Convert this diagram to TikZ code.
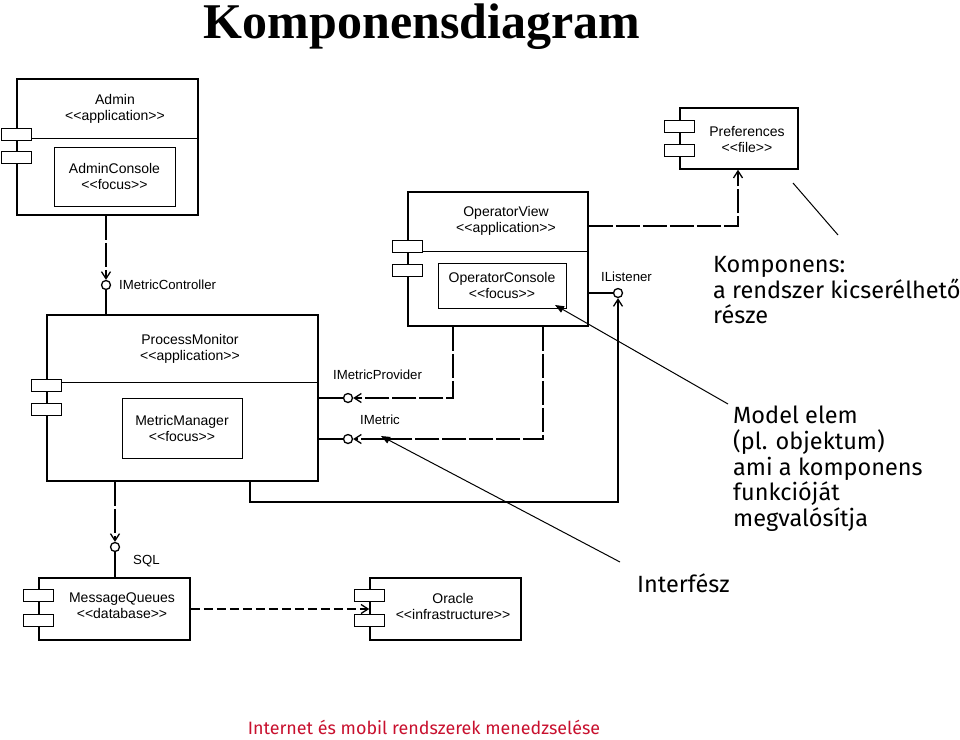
\documentclass[tikz,border=0pt]{standalone}
\usepackage{fontspec}
\setmainfont{Liberation Sans}
\newfontfamily\notefont{Fira Sans}
\newfontfamily\titlefont{Liberation Serif}
\usetikzlibrary{arrows.meta}
\definecolor{footred}{RGB}{200,16,46}
\newcommand{\stereo}[1]{<{}<#1>{}>}

\tikzset{
  comp/.style={draw, line width=1.5pt, inner sep=0pt},
  part/.style={draw, line width=1pt, inner sep=0pt, font=\fontsize{14}{16}\selectfont, align=center},
  port/.style={draw, line width=1.2pt, fill=white, minimum width=30pt, minimum height=12pt, inner sep=0pt},
  lolli/.style={circle, draw, line width=1.3pt, fill=white, minimum size=9pt, inner sep=0pt},
  boxtext/.style={font=\fontsize{14}{16}\selectfont, align=center, inner sep=0pt},
  ifctext/.style={font=\fontsize{13.2}{16}\selectfont, anchor=west, inner sep=0pt},
  dep/.style={line width=1.3pt, -{Straight Barb[length=7pt,width=9pt]}},
  deplong/.style={dep, dash pattern=on 24pt off 3pt},
  note/.style={font=\notefont\fontsize{23.5}{25.7}\selectfont, align=left, anchor=north west, inner sep=0pt},
  pointer/.style={line width=1pt, -{Triangle[length=9pt,width=7pt]}},
}

\begin{document}
\begin{tikzpicture}[x=1pt,y=-1pt]
\useasboundingbox (0,0) rectangle (960,739);

% title and footer
\node[font=\titlefont\bfseries\fontsize{50}{50}\selectfont, anchor=base] (title) at (422,38) {Komponensdiagram};
\node[font=\notefont\fontsize{17.9}{20}\selectfont, text=footred, anchor=base] (foot) at (424,734) {Internet és mobil rendszerek menedzselése};

% components
\node[comp, minimum width=181pt, minimum height=136pt] (admin) at (107.5,147) {};
\node[comp, minimum width=118pt, minimum height=61pt] (prefs) at (739,138.5) {};
\node[comp, minimum width=180pt, minimum height=134pt] (opview) at (498,259) {};
\node[comp, minimum width=271pt, minimum height=166pt] (procmon) at (182.5,398) {};
\node[comp, minimum width=151pt, minimum height=62pt] (msgq) at (114.5,609) {};
\node[comp, minimum width=151pt, minimum height=62pt] (oracle) at (445.5,609) {};

% compartments
\draw[line width=1pt] ([yshift=-60pt]admin.north west) -- ([yshift=-60pt]admin.north east);
\draw[line width=1pt] ([yshift=-60pt]opview.north west) -- ([yshift=-60pt]opview.north east);
\draw[line width=1pt] ([yshift=-68pt]procmon.north west) -- ([yshift=-68pt]procmon.north east);

% parts
\node[part, minimum width=121pt, minimum height=59pt] (adminconsole) at (114.5,176.5) {AdminConsole\\\stereo{focus}};
\node[part, minimum width=128pt, minimum height=45pt] (opconsole) at (502,285.5) {OperatorConsole\\\stereo{focus}};
\node[part, minimum width=120pt, minimum height=60pt] (metricmgr) at (182,428) {MetricManager\\\stereo{focus}};

% names
\node[boxtext] (admin-t) at (115,109) {Admin\\\stereo{application}};
\node[boxtext] (prefs-t) at (747,139) {Preferences\\\stereo{file}};
\node[boxtext] (opview-t) at (506,221) {OperatorView\\\stereo{application}};
\node[boxtext] (procmon-t) at (190,349) {ProcessMonitor\\\stereo{application}};
\node[boxtext] (msgq-t) at (122,606) {MessageQueues\\\stereo{database}};
\node[boxtext] (oracle-t) at (453,606) {Oracle\\\stereo{infrastructure}};

% ports
\foreach \c/\a/\b in {admin/56/79.5, prefs/19.5/43, opview/55.5/79.5, procmon/71.5/95.5, msgq/18.5/43, oracle/18.5/43} {
  \node[port] (\c-p1) at ([yshift=-\a pt]\c.north west) {};
  \node[port] (\c-p2) at ([yshift=-\b pt]\c.north west) {};
}

% interfaces
\node[lolli] (imc) at (106,285) {};
\node[lolli] (imp) at (348,398) {};
\node[lolli] (im) at (348,439) {};
\node[lolli] (il) at (618,293) {};
\node[lolli] (sql) at (115,547) {};

\node[ifctext] (imc-t) at (119,285) {IMetricController};
\node[ifctext] (imp-t) at (333,375) {IMetricProvider};
\node[ifctext] (im-t) at (360,420) {IMetric};
\node[ifctext] (il-t) at (601,277) {IListener};
\node[ifctext] (sql-t) at (133,561) {SQL};

\coordinate (c1) at (453,398);
\coordinate (c2) at (543,439);
\coordinate (c3) at (250,502);
\coordinate (c4) at (618,502);
\coordinate (c5) at (738,226);

\draw[line width=1.3pt] (imc.south) -- (imc.south |- procmon.north);
\draw[line width=1.3pt] (procmon.east |- imp) -- (imp.west);
\draw[line width=1.3pt] (procmon.east |- im) -- (im.west);
\draw[line width=1.3pt] (opview.east |- il) -- (il.west);
\draw[line width=1.3pt] (sql.south) -- (sql.south |- msgq.north);

\draw[deplong] (admin.south -| imc) -- (imc.north);
\draw[deplong] (opview.south -| c1) -- (c1) -- (imp.east);
\draw[deplong] (opview.south -| c2) -- (c2) -- (im.east);
\draw[dep] (procmon.south -| c3) -- (c3) -- (c4) -- (il.south);
\draw[deplong] (opview.east |- c5) -- (c5) -- (prefs.south -| c5);
\draw[deplong] (procmon.south -| sql) -- (sql.north);
\draw[dep, dash pattern=on 9pt off 4pt] (msgq.east) -- (oracle.west);

% notes
\node[note] (komp-note) at (713,256) {Komponens:\\a rendszer kicserélhető\\része};
\node[note] (model-note) at (733,406) {Model elem\\(pl. objektum)\\ami a komponens\\funkcióját\\megvalósítja};
\node[note] (intf-note) at (637,573) {Interfész};

\coordinate (k-from) at (838,235);
\coordinate (k-to) at (793,183);
\coordinate (m-from) at (728,404);
\coordinate (m-to) at (555,305);
\coordinate (i-from) at (620,562);
\coordinate (i-to) at (381,436);

\draw[line width=1pt] (k-from) -- (k-to);
\draw[pointer] (m-from) -- (m-to);
\draw[pointer] (i-from) -- (i-to);
\end{tikzpicture}
\end{document}
